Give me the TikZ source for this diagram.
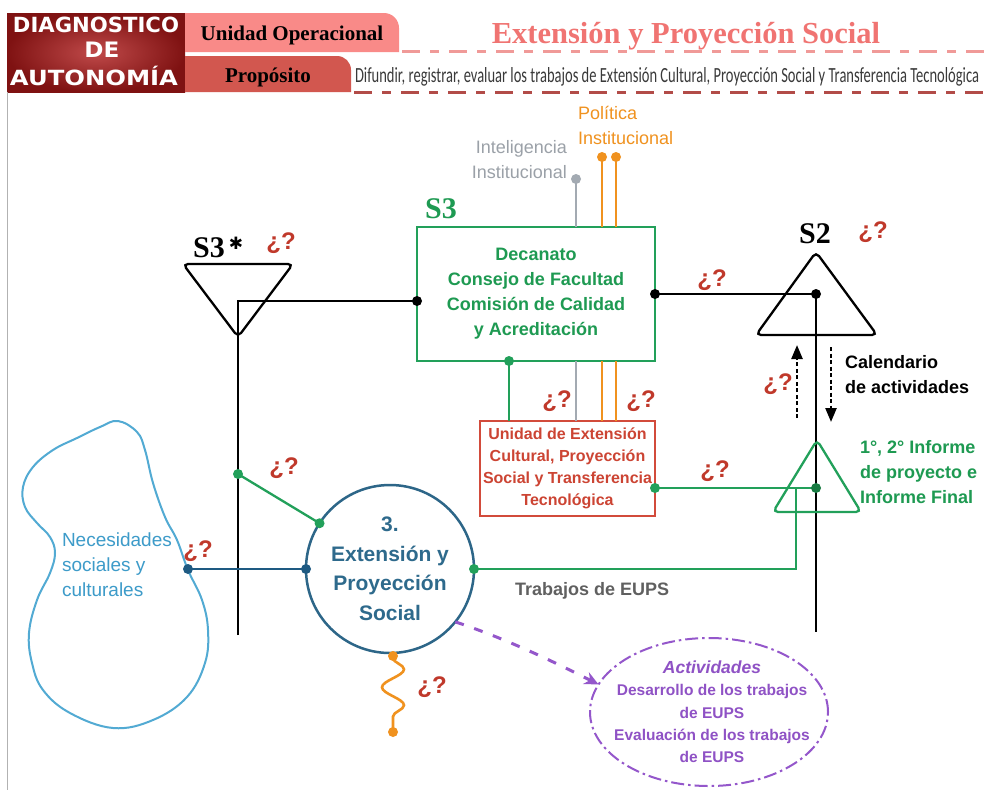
\documentclass[tikz,border=0pt]{standalone}
\usepackage{fontspec}
\setmainfont{Liberation Sans}
\newfontfamily\titleserif{Liberation Serif}
\newfontfamily\narrowsans{Carlito}
\newfontfamily\symfont{DejaVu Sans}
\usetikzlibrary{shapes.geometric,arrows.meta,decorations.pathmorphing,calc}

\definecolor{hdrDark}{HTML}{7F1212}
\definecolor{hdrLight}{HTML}{C04A4A}
\definecolor{pinkA}{HTML}{F98A88}
\definecolor{pinkB}{HTML}{D2574F}
\definecolor{titleC}{HTML}{F07472}
\definecolor{dashA}{HTML}{F09A98}
\definecolor{dashB}{HTML}{B24C48}
\definecolor{difT}{HTML}{3A3A3A}
\definecolor{qred}{HTML}{C0392B}
\definecolor{grn}{HTML}{22A05A}
\definecolor{grnT}{HTML}{1E9A52}
\definecolor{ured}{HTML}{D24B3B}
\definecolor{uredT}{HTML}{CC4433}
\definecolor{tealC}{HTML}{2D6688}
\definecolor{tealT}{HTML}{2E6A8C}
\definecolor{blueDot}{HTML}{1E5A82}
\definecolor{blobC}{HTML}{52AAD3}
\definecolor{blobT}{HTML}{3D9BC9}
\definecolor{orangeC}{HTML}{F0921F}
\definecolor{grayL}{HTML}{A3AAB2}
\definecolor{grayT}{HTML}{9BA1A8}
\definecolor{trabT}{HTML}{606060}
\definecolor{purp}{HTML}{9457CB}
\definecolor{purpT}{HTML}{8F52C5}

\newcommand\dotat[2]{\fill[#1] (#2) circle (5pt);}

\begin{document}
\begin{tikzpicture}[x=1pt,y=-1pt,
  every node/.style={inner sep=0pt,outer sep=0pt},
  qmark/.style={text=qred,font=\bfseries\fontsize{24}{24}\selectfont},
  syslabel/.style={font=\titleserif\bfseries\fontsize{30}{30}\selectfont,anchor=base},
  blackline/.style={draw=black,line width=2.3pt},
  greenline/.style={draw=grn,line width=2.3pt},
  orangeline/.style={draw=orangeC,line width=2.3pt},
  grayline/.style={draw=grayL,line width=2.3pt},
  dashedarrow/.style={draw=black,line width=2.4pt,dash pattern=on 4pt off 2.5pt,
     -{Triangle[width=11pt,length=14pt]}},
  bodytext/.style={font=\bfseries\fontsize{18}{25}\selectfont},
]
\useasboundingbox (0,0) rectangle (984,790);
\fill[white] (0,0) rectangle (984,790);

% ---------- header band ----------
\shade[inner color=hdrLight,outer color=hdrDark] (7,13) rectangle (185,92);
\node[anchor=base,text=white] (hdrA) at (96,32)
  {\symfont\bfseries\resizebox{166pt}{15.5pt}{DIAGNOSTICO}};
\node[anchor=base,text=white] (hdrB) at (102,57)
  {\symfont\bfseries\resizebox{35pt}{15.5pt}{DE}};
\node[anchor=base,text=white] (hdrC) at (94,85)
  {\symfont\bfseries\resizebox{168pt}{15.5pt}{AUTONOM\smash{Í}A}};

\fill[pinkA] (185,13) -- (384,13) to[out=0,in=90] (399,28) -- (399,52) -- (185,52) -- cycle;
\fill[pinkB] (185,56) -- (337,56) to[out=0,in=90] (351,70) -- (351,92) -- (185,92) -- cycle;
\node[anchor=base,font=\titleserif\bfseries\fontsize{21}{21}\selectfont] (unitlbl) at (292,40) {Unidad Operacional};
\node[anchor=base,font=\titleserif\bfseries\fontsize{21}{21}\selectfont] (purplbl) at (268,82) {Propósito};

\draw[dashA,line width=3pt,dash pattern=on 18pt off 10pt on 9pt off 10pt] (402,51) -- (984,51);
\draw[dashB,line width=3pt,dash pattern=on 18pt off 10pt on 9pt off 10pt] (354,92) -- (984,92);
\node[anchor=base,text=titleC,font=\titleserif\bfseries\fontsize{30.5}{30.5}\selectfont] (title) at (686,43)
  {Extensión y Proyección Social};
\node[anchor=base west,text=difT] (purpose) at (355,82)
  {\narrowsans\resizebox{624pt}{15pt}{Difundir, registrar, evaluar los trabajos de Extensión Cultural, Proyección Social y Transferencia Tecnológica}};

% left frame line
\draw[gray!60,line width=1pt] (7,92) -- (7,790);

% ---------- S3 management box ----------
\node[draw=grn,line width=2.3pt,minimum width=238pt,minimum height=134pt,
      text=grnT,bodytext,align=center] (s3box) at (536,294)
  {Decanato\\Consejo de Facultad\\Comisión de Calidad\\y Acreditación};
\node[syslabel,text=grnT] (s3lbl) at (441,218) {S3};

% inputs from above
\coordinate (intelTop) at (576,179);
\coordinate (polA) at (602,157);
\coordinate (polB) at (616,157);
\draw[grayline] (intelTop) -- (intelTop |- s3box.north);
\draw[orangeline] (polA) -- (polA |- s3box.north);
\draw[orangeline] (polB) -- (polB |- s3box.north);
\dotat{grayL}{intelTop}
\dotat{orangeC}{polA}
\dotat{orangeC}{polB}
\node[anchor=north east,align=right,text=grayT,font=\fontsize{18}{25}\selectfont] (intel) at (567,140)
  {Inteligencia\\Institucional};
\node[anchor=north west,align=left,text=orangeC,font=\fontsize{18}{25}\selectfont] (polit) at (578,106)
  {Política\\Institucional};

% ---------- operational unit box ----------
\node[draw=ured,line width=2pt,minimum width=175pt,minimum height=95pt,
      text=uredT,font=\bfseries\fontsize{16}{22}\selectfont,align=center] (unidad) at (567.5,468.5)
  {Unidad de Extensión\\Cultural, Proyección\\Social y Transferencia\\Tecnológica};
\coordinate (gDown) at (509,361);
\draw[greenline] (gDown) -- (gDown |- unidad.north);
\dotat{grn}{gDown}
\draw[grayline] (intelTop |- s3box.south) -- (intelTop |- unidad.north);
\draw[orangeline] (polA |- s3box.south) -- (polA |- unidad.north);
\draw[orangeline] (polB |- s3box.south) -- (polB |- unidad.north);
\node[qmark] (qU1) at (557,401) {¿?};
\node[qmark] (qU2) at (641,401) {¿?};

% ---------- S3* audit channel ----------
\draw[black,line width=2.3pt,rounded corners=5pt] (183,264) -- (293,264) -- (238,337) -- cycle;
\node[syslabel] (s3slbl) at (209,257) {S3};
\node[anchor=base,font=\symfont\bfseries\fontsize{17}{17}\selectfont] (s3star) at (236,249) {✱};
\node[qmark] (qS3s) at (281,243) {¿?};
\coordinate (s3sCorner) at (238,301);
\coordinate (s3sBottom) at (238,635);
\draw[blackline] (s3sBottom) -- (s3sCorner) -- (s3box.west |- s3sCorner);
\dotat{black}{s3box.west |- s3sCorner}

% ---------- S2 coordination ----------
\draw[black,line width=2.3pt,rounded corners=5pt] (756,335) -- (877,335) -- (816,252) -- cycle;
\node[syslabel] (s2lbl) at (815,243) {S2};
\node[qmark] (qS2) at (873,232) {¿?};
\coordinate (s2c) at (816,294);
\coordinate (s2Bottom) at (816,632);
\draw[blackline] (s3box.east |- s2c) -- (s2c) -- (s2Bottom);
\dotat{black}{s3box.east |- s2c}
\dotat{black}{s2c}
\node[qmark] (qS3S2) at (712,280) {¿?};

\coordinate (upA) at (797,418);
\coordinate (upB) at (797,345);
\coordinate (dnA) at (831,347);
\coordinate (dnB) at (831,422);
\draw[dashedarrow] (upA) -- (upB);
\draw[dashedarrow] (dnA) -- (dnB);
\node[qmark] (qUp) at (778,384) {¿?};
\node[anchor=north west,align=left,bodytext] (cal) at (845,355) {Calendario\\de actividades};

% ---------- reports triangle ----------
\draw[grn,line width=2.3pt,rounded corners=5pt] (773,512) -- (861,512) -- (817,440) -- cycle;
\coordinate (rep) at (816,488);
\draw[greenline] (unidad.east |- rep) -- (rep);
\dotat{grn}{unidad.east |- rep}
\dotat{grnT!80!black}{rep}
\node[qmark] (qRep) at (715,471) {¿?};
\node[anchor=north west,align=left,text=grnT,bodytext] (replbl) at (860,440)
  {1°, 2° Informe\\de proyecto e\\Informe Final};

% ---------- operation 3 ----------
\node[circle,draw=tealC,line width=2.5pt,minimum size=168pt,text=tealT,
      font=\bfseries\fontsize{21}{29.5}\selectfont,align=center] (eps) at (390,569)
  {3.\\Extensión y\\Proyección\\Social};
\coordinate (epsOut) at (796,569);
\draw[greenline] (eps.east) -- (epsOut) -- (epsOut |- rep);
\dotat{grn}{eps.east}
\node[anchor=base west,text=trabT,bodytext] (trab) at (515,595) {Trabajos de EUPS};

\coordinate (s3sTap) at (238,474);
\draw[greenline] (s3sTap) -- (eps.147);
\dotat{grn}{s3sTap}
\dotat{grn}{eps.147}
\node[qmark] (qTap) at (284,468) {¿?};

% ---------- environment ----------
\draw[blobC,line width=2pt] plot[smooth cycle,tension=0.65] coordinates {
  (118,421) (137,432) (145,450) (153,483) (165,517) (177,540) (188,570)
  (202,600) (208,630) (205,663) (187,697) (153,720) (113,728) (70,713)
  (43,690) (32,663) (29,633) (37,600) (50,573) (55,553) (50,537)
  (37,523) (25,507) (23,487) (33,467) (53,450) (77,438) (100,427)};
\node[anchor=north west,align=left,text=blobT,font=\fontsize{19}{25}\selectfont] (needs) at (62,533)
  {Necesidades\\sociales y\\culturales};
\coordinate (envDot) at (188,569);
\draw[draw=blueDot,line width=2.3pt] (envDot) -- (eps.west);
\dotat{blueDot}{envDot}
\dotat{blueDot}{eps.west}
\node[qmark] (qEnv) at (198,551) {¿?};

% ---------- resources wiggle ----------
\coordinate (wigA) at (393,656);
\coordinate (wigB) at (393,732);
\draw[orangeC,line width=2.6pt,decorate,decoration={snake,segment length=36pt,amplitude=11pt,pre length=2pt,post length=2pt}] (wigA) -- (wigB);
\dotat{orangeC}{wigA}
\dotat{orangeC}{wigB}
\node[qmark] (qWig) at (432,687) {¿?};

% ---------- activities ----------
\node[ellipse,draw=purp,line width=2pt,dash pattern=on 13pt off 4pt on 2.5pt off 4pt,
      minimum width=238pt,minimum height=148pt] (act) at (709,712) {};
\node[text=purpT,align=center,font=\bfseries\fontsize{15.5}{22.3}\selectfont] (acttext) at (712,712)
  {{\itshape\fontsize{17.5}{22.3}\selectfont Actividades}\\Desarrollo de los trabajos\\de EUPS\\Evaluación de los trabajos\\de EUPS};
\draw[purp,line width=3pt,dash pattern=on 9pt off 11pt,-{Stealth[length=14pt,width=13pt]}]
  (eps.-39) .. controls (510,640) and (560,665) .. (act.166);
\end{tikzpicture}
\end{document}
